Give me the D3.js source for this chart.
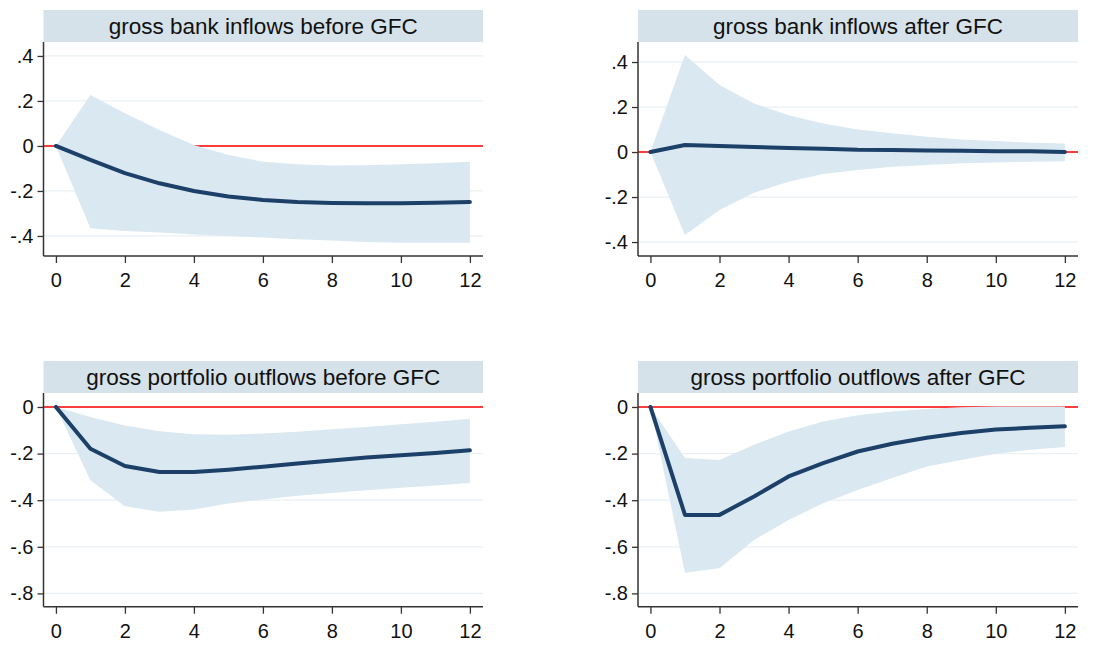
<!DOCTYPE html>
<html>
<head>
<meta charset="utf-8">
<script src="https://cdn.jsdelivr.net/npm/d3@7"></script>
<style>
  body { margin: 0; background: #fff; }
  svg { display: block; font-family: "Liberation Sans", Arial, sans-serif; }
</style>
</head>
<body>
<div id="vis"></div>
<script>
// horizon (steps after shock)
var steps = [0, 1, 2, 3, 4, 5, 6, 7, 8, 9, 10, 11, 12];
var xTicks = [0, 2, 4, 6, 8, 10, 12];
var yTicksTop = [-0.4, -0.2, 0, 0.2, 0.4];
var yTicksBottom = [-0.8, -0.6, -0.4, -0.2, 0];

var titles = [
  'gross bank inflows before GFC',
  'gross bank inflows after GFC',
  'gross portfolio outflows before GFC',
  'gross portfolio outflows after GFC',
];

// gross bank inflows before GFC
var bankBeforeIrf = [0, -0.062, -0.121, -0.166, -0.2, -0.225, -0.24, -0.249, -0.253, -0.255, -0.255, -0.252, -0.249];
var bankBeforeHi = [0, 0.227, 0.145, 0.071, 0.004, -0.04, -0.07, -0.081, -0.087, -0.086, -0.081, -0.077, -0.07];
var bankBeforeLo = [0, -0.366, -0.378, -0.385, -0.393, -0.4, -0.407, -0.415, -0.42, -0.427, -0.43, -0.43, -0.43];

// gross bank inflows after GFC
var bankAfterIrf = [0, 0.031, 0.027, 0.022, 0.018, 0.015, 0.01, 0.009, 0.007, 0.006, 0.004, 0.003, 0.0];
var bankAfterHi = [0, 0.431, 0.298, 0.216, 0.164, 0.127, 0.1, 0.083, 0.068, 0.056, 0.049, 0.041, 0.038];
var bankAfterLo = [0, -0.369, -0.258, -0.181, -0.132, -0.098, -0.08, -0.065, -0.058, -0.05, -0.046, -0.043, -0.041];

// gross portfolio outflows before GFC
var portBeforeIrf = [0, -0.179, -0.253, -0.279, -0.279, -0.269, -0.256, -0.243, -0.23, -0.217, -0.207, -0.197, -0.186];
var portBeforeHi = [0, -0.043, -0.079, -0.104, -0.117, -0.119, -0.114, -0.106, -0.096, -0.086, -0.074, -0.063, -0.05];
var portBeforeLo = [0, -0.314, -0.426, -0.45, -0.44, -0.414, -0.397, -0.381, -0.369, -0.357, -0.347, -0.337, -0.326];

// gross portfolio outflows after GFC
var portAfterIrf = [0, -0.463, -0.463, -0.384, -0.298, -0.241, -0.191, -0.158, -0.132, -0.112, -0.097, -0.089, -0.083];
var portAfterHi = [0, -0.219, -0.227, -0.162, -0.105, -0.062, -0.036, -0.019, -0.009, -0.001, 0.002, 0.002, 0.002];
var portAfterLo = [0, -0.711, -0.692, -0.571, -0.485, -0.413, -0.356, -0.305, -0.255, -0.227, -0.201, -0.184, -0.172];

var width = 1120;
var height = 645;

var svg = d3
  .select('#vis')
  .append('svg')
  .attr('width', width)
  .attr('height', height);

// layout of the four panels
var cols = [
  {left: 43.5, right: 483},
  {left: 638, right: 1078},
];
var rows = [
  {titleTop: 10, top: 42, bottom: 256},
  {titleTop: 361, top: 393, bottom: 606.7},
];

var panels = [
  {col: 0, row: 0, irf: bankBeforeIrf, lo: bankBeforeLo, hi: bankBeforeHi, yDomain: [-0.489, 0.462], yTicks: yTicksTop},
  {col: 1, row: 0, irf: bankAfterIrf, lo: bankAfterLo, hi: bankAfterHi, yDomain: [-0.462, 0.489], yTicks: yTicksTop},
  {col: 0, row: 1, irf: portBeforeIrf, lo: portBeforeLo, hi: portBeforeHi, yDomain: [-0.857, 0.06], yTicks: yTicksBottom},
  {col: 1, row: 1, irf: portAfterIrf, lo: portAfterLo, hi: portAfterHi, yDomain: [-0.857, 0.06], yTicks: yTicksBottom},
];

function stataLabel(d) {
  if (d === 0) return '0';
  var s = Math.abs(d).toFixed(1).replace(/^0/, '');
  return (d < 0 ? '-' : '') + s;
}

panels.forEach(function(p, i) {
  var c = cols[p.col];
  var r = rows[p.row];

  var x = d3.scaleLinear().domain([-0.36, 12.38]).range([c.left, c.right]);
  var y = d3.scaleLinear().domain(p.yDomain).range([r.bottom, r.top]);

  var g = svg.append('g').attr('class', 'panel');

  // title strip
  g.append('rect')
    .attr('x', c.left)
    .attr('y', r.titleTop)
    .attr('width', c.right - c.left)
    .attr('height', r.top - r.titleTop)
    .style('fill', '#d6e2e9');

  g.append('text')
    .attr('x', (c.left + c.right) / 2)
    .attr('y', r.titleTop + 23.5)
    .attr('text-anchor', 'middle')
    .style('font-size', '22.5px')
    .style('fill', '#111')
    .text(titles[i]);

  // grid lines
  g.selectAll('.grid')
    .data(p.yTicks)
    .enter()
    .append('line')
    .attr('x1', c.left)
    .attr('x2', c.right)
    .attr('y1', d => y(d))
    .attr('y2', d => y(d))
    .style('stroke', '#eaf0f3')
    .style('stroke-width', 1.2);

  // zero line
  g.append('line')
    .attr('x1', c.left)
    .attr('x2', c.right)
    .attr('y1', y(0))
    .attr('y2', y(0))
    .style('stroke', '#ff0000')
    .style('stroke-width', 1.6);

  // confidence band
  var area = d3
    .area()
    .x((d, j) => x(steps[j]))
    .y0((d, j) => y(p.lo[j]))
    .y1((d, j) => y(p.hi[j]));

  g.append('path')
    .datum(steps)
    .attr('d', area)
    .style('fill', '#dae8f1');

  // impulse response
  var line = d3
    .line()
    .x((d, j) => x(steps[j]))
    .y((d, j) => y(p.irf[j]));

  g.append('path')
    .datum(steps)
    .attr('d', line)
    .style('fill', 'none')
    .style('stroke', '#1c4068')
    .style('stroke-width', 4)
    .style('stroke-linejoin', 'round')
    .style('stroke-linecap', 'round');

  // axes
  var yAxis = g
    .append('g')
    .attr('transform', `translate(${c.left},0)`)
    .call(
      d3
        .axisLeft(y)
        .tickValues(p.yTicks)
        .tickSize(6)
        .tickPadding(4)
        .tickFormat(stataLabel)
    );

  var xAxis = g
    .append('g')
    .attr('transform', `translate(0,${r.bottom})`)
    .call(
      d3
        .axisBottom(x)
        .tickValues(xTicks)
        .tickSize(7)
        .tickPadding(10)
        .tickFormat(d3.format('d'))
    );

  [yAxis, xAxis].forEach(function(ax) {
    ax.select('.domain').remove();
    ax.selectAll('line').style('stroke', '#333').style('stroke-width', 1.3);
    ax.selectAll('text')
      .style('font-size', '20px')
      .style('fill', '#111')
      .style('font-family', '"Liberation Sans", Arial, sans-serif');
  });

  // axis lines (Stata style, L shape)
  g.append('line')
    .attr('x1', c.left)
    .attr('x2', c.left)
    .attr('y1', r.top)
    .attr('y2', r.bottom)
    .style('stroke', '#333')
    .style('stroke-width', 1.5);

  g.append('line')
    .attr('x1', c.left)
    .attr('x2', c.right)
    .attr('y1', r.bottom)
    .attr('y2', r.bottom)
    .style('stroke', '#333')
    .style('stroke-width', 1.5);
});
</script>
</body>
</html>
